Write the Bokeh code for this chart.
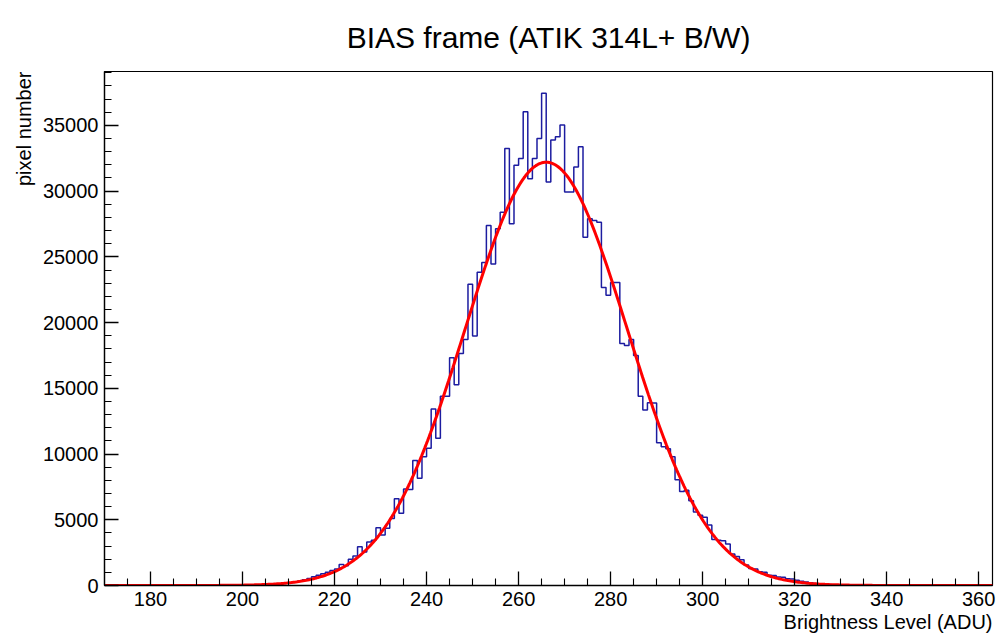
import math
from bokeh.plotting import figure
from bokeh.models import Range1d, FixedTicker, Title
from bokeh.embed import file_html
from bokeh.resources import INLINE

# ---- data ----
first_bin = 195          # left edge of first bin (ADU), bins are 1 ADU wide
counts = [
    2, 3, 4, 6, 8, 11, 15, 21, 28, 38,                      # 195-204
    52, 70, 95, 125, 165, 215, 280, 350, 440, 540,          # 205-214
    660, 780, 900, 1000, 1150, 1250, 1600, 1500, 2000, 2250,  # 215-224
    2950, 2550, 3300, 3450, 4400, 3850, 4350, 5100, 6600, 5500,  # 225-234
    7350, 7300, 9500, 8150, 9800, 10450, 13430, 11210, 14390, 14400,  # 235-244
    17320, 15280, 17650, 18720, 22925, 18975, 23820, 24580, 27380, 24450,  # 245-254
    27130, 28400, 33240, 27510, 31970, 32480, 36040, 30950, 32480, 34000,  # 255-264
    37445, 30700, 33880, 34130, 35030, 29930, 29930, 31840, 33370, 26490,  # 265-274
    27890, 27770, 27640, 22670, 22085, 23055, 23055, 18400, 18250, 18720,  # 275-284
    17500, 14390, 13350, 13900, 13880, 10850, 10550, 10400, 9800, 8050,  # 285-294
    7150, 7250, 6450, 5600, 5350, 5200, 4600, 3500, 3450, 3400,  # 295-304
    3150, 2400, 2200, 1950, 1550, 1300, 1250, 1050, 1000, 780,  # 305-314
    760, 650, 620, 520, 500, 400, 330, 260, 200, 160,       # 315-324
    120, 90, 70, 50, 40, 30, 20, 15, 10, 7,                 # 325-334
    5, 3, 2, 1, 1, 0,                                       # 335-340
]

# Gaussian fit parameters
fit_amp = 32200.0
fit_mean = 266.0
fit_sigma = 17.6

x_min, x_max = 170, 363
y_min, y_max = 0, 39100
x_ticks = [180, 200, 220, 240, 260, 280, 300, 320, 340, 360]
y_ticks = [0, 5000, 10000, 15000, 20000, 25000, 30000, 35000]

title_text = "BIAS frame (ATIK 314L+ B/W)"
x_label = "Brightness Level (ADU)"
y_label = "pixel number"

FONT = "Liberation Sans"
W, H = 996, 637
LEFT, RIGHT, TOP, BOTTOM = 104, 4, 71, 52

p = figure(width=W, height=H, output_backend="svg", toolbar_location=None,
           x_range=Range1d(x_min, x_max), y_range=Range1d(y_min, y_max),
           min_border_left=LEFT, min_border_right=RIGHT,
           min_border_top=TOP, min_border_bottom=BOTTOM)
p.xgrid.visible = False
p.ygrid.visible = False
p.outline_line_color = "black"
p.outline_line_width = 1.2
p.background_fill_color = "white"
p.border_fill_color = "white"

# titles
p.title.text = title_text
p.title.align = "center"
p.title.text_font = FONT
p.title.text_font_size = "30px"
p.title.text_font_style = "normal"
p.title.text_color = "black"
p.title.standoff = 35

p.add_layout(Title(text=x_label, align="right", text_font=FONT,
                   text_font_size="20px", text_font_style="normal",
                   text_color="black", standoff=0), "below")
p.add_layout(Title(text=y_label, align="right", text_font=FONT,
                   text_font_size="20px", text_font_style="normal",
                   text_color="black", standoff=10), "left")

# histogram outline (steps)
hx, hy = [], []
prev = 0
for i, c in enumerate(counts):
    lo = first_bin + i
    hx += [lo, lo]
    hy += [prev, c]
    prev = c
hx += [first_bin + len(counts), first_bin + len(counts)]
hy += [prev, 0]
hx = [x_min] + hx + [x_max]
hy = [0] + hy + [0]
p.line(hx, hy, line_color="#1c1ca0", line_width=1.5)

# fitted Gaussian
n = 600
gx = [x_min + (x_max - x_min) * i / (n - 1) for i in range(n)]
gy = [fit_amp * math.exp(-0.5 * ((x - fit_mean) / fit_sigma) ** 2) for x in gx]
p.line(gx, gy, line_color="#ff0000", line_width=3)

# axes styling (ROOT style: ticks inside)
for ax in (p.xaxis[0], p.yaxis[0]):
    ax.major_tick_in = 14
    ax.major_tick_out = 0
    ax.minor_tick_in = 7
    ax.minor_tick_out = 0
    ax.axis_line_width = 1.3
    ax.major_tick_line_width = 1.3
    ax.minor_tick_line_width = 1.1
    ax.major_label_text_font = FONT
    ax.major_label_text_font_size = "20px"
    ax.major_label_text_color = "black"
    ax.major_label_standoff = 6

xminor = [v for v in range(175, 365, 5) if v not in x_ticks]
yminor = [v for v in range(0, 39001, 1000) if v not in y_ticks]
p.xaxis[0].ticker = FixedTicker(ticks=x_ticks, minor_ticks=xminor)
p.yaxis[0].ticker = FixedTicker(ticks=y_ticks, minor_ticks=yminor)

open("out.html", "w").write(file_html(p, INLINE))
